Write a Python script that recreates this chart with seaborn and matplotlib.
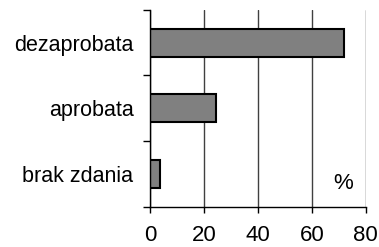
import pandas as pd
import matplotlib.pyplot as plt
import matplotlib.ticker as mticker
import seaborn as sns

# ================== DATA ==================
categories = ['dezaprobata', 'aprobata', 'brak zdania']
values = [72, 24.5, 3.7]
x_ticks = [0, 20, 40, 60, 80]

df = pd.DataFrame({'cat': categories, 'val': values})

# ================== STYLE ==================
sns.set_style("white")
plt.rcParams['font.family'] = ['Liberation Sans', 'DejaVu Sans']
plt.rcParams['text.color'] = 'black'
plt.rcParams['xtick.color'] = 'black'
plt.rcParams['ytick.color'] = 'black'

fig = plt.figure(figsize=(3.79, 2.47), dpi=100)
ax = fig.add_axes([0.396, 0.163, 0.569, 0.797])

sns.barplot(data=df, x='val', y='cat', orient='h', color='#808080',
            edgecolor='black', linewidth=1.5, width=0.43, saturation=1, ax=ax)

ax.set_xlim(0, 80)
ax.set_ylim(2.5, -0.5)
ax.set_xticks(x_ticks)
ax.set_xticklabels([str(t) for t in x_ticks], fontsize=16)
ax.tick_params(axis='y', labelsize=15.5, length=0, pad=12, labelcolor='black')
ax.tick_params(axis='x', length=4, width=1, color='black', direction='out', pad=9, labelcolor='black')
ax.xaxis.set_ticks_position('bottom')

# ticks between categories on the left axis
ax.yaxis.set_minor_locator(mticker.FixedLocator([-0.5, 0.5, 1.5, 2.5]))
ax.tick_params(axis='y', which='minor', length=5, width=1, color='black', direction='out', left=True)

# vertical gridlines
ax.grid(axis='x', color='#404040', linewidth=1)
ax.set_axisbelow(True)

for side in ['top', 'right']:
    ax.spines[side].set_visible(False)
ax.spines['left'].set_color('black')
ax.spines['bottom'].set_color('black')
ax.spines['left'].set_linewidth(1)
ax.spines['bottom'].set_linewidth(1)

ax.set_xlabel('')
ax.set_ylabel('')
ax.text(0.94, 0.12, '%', transform=ax.transAxes, fontsize=16, ha='right', va='center')

fig.savefig('out.png', dpi=100)
